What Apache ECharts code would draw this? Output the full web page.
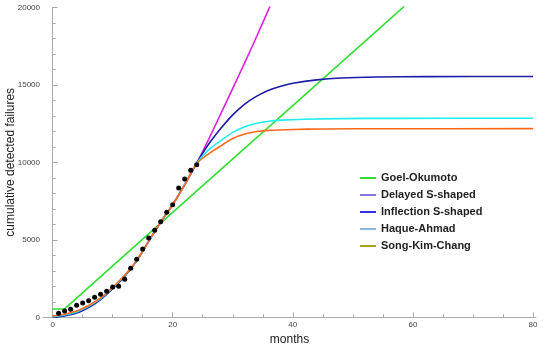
<!DOCTYPE html>
<html><head><meta charset="utf-8">
<script src="https://cdn.jsdelivr.net/npm/echarts@6/dist/echarts.min.js"></script>
<style>html,body{margin:0;padding:0;background:#fff}#c{width:550px;height:347px}</style>
</head><body><div id="c"></div>
<script>
// observed data
const obsMonths = [1,2,3,4,5,6,7,8,9,10,11,12,13,14,15,16,17,18,19,20,21,22,23,24];
const obsFailures = [260,406,516,774,923,1071,1290,1484,1677,1955,2000,2452,3161,3742,4406,5116,5613,6168,6774,7265,8340,8930,9480,9835];

// model curves (sampled)
const goMonths = [0,2,10,20,30,40,50,60];
const goValues = [540,540,3320,6770,10220,13660,17110,20560];

const dsMonths = [0,2,4,6,8,10,12,14,16,18,20,22,24,26,28,30,32,34,36,38];
const dsValues = [0,130,330,690,1200,1880,2680,3650,4900,6130,7270,8560,9930,11500,13120,14770,16430,18130,19890,21700];

const isMonths = [0,2,4,6,8,10,12,14,16,18,20,22,24,26,28,30,32,34,36,38,40,44,48,54,62,80];
const isValues = [0,90,270,630,1140,1840,2640,3640,4900,6150,7260,8560,9960,11180,12180,13060,13760,14270,14650,14910,15100,15320,15440,15505,15530,15540];

const haMonths = [0,2,4,6,8,10,12,14,16,18,20,22,24,26,28,30,32,34,36,38,42,48,58,80];
const haValues = [40,150,350,710,1210,1890,2690,3660,4910,6140,7260,8560,9940,10820,11400,11930,12300,12520,12650,12720,12780,12820,12835,12840];

const skMonths = [0,2,4,6,8,10,12,14,16,18,20,22,24,26,28,30,32,34,36,40,45,55,80];
const skValues = [90,200,400,760,1250,1920,2710,3670,4910,6140,7260,8550,9920,10550,11060,11540,11830,11985,12060,12120,12150,12165,12170];

const seriesNames = ['Goel-Okumoto','Delayed S-shaped','Inflection S-shaped','Haque-Ahmad','Song-Kim-Chang'];
const lineColors = ['#33dd33','#dd22dd','#1c1ca8','#22eeee','#ff6a1c'];
const legendColors = ['#33dd33','#9070e0','#3030e0','#88bbe0','#b0a020'];
const xMajor = [0,20,40,60,80];
const xMinor = [5,10,15,25,30,35,45,50,55,65,70,75];

function zip(a,b){return a.map((x,i)=>[x,b[i]]);}
const curveData = [zip(goMonths,goValues),zip(dsMonths,dsValues),zip(isMonths,isValues),zip(haMonths,haValues),zip(skMonths,skValues)];

const chart = echarts.init(document.getElementById('c'));
const axisGray = '#aaaaaa';
const series = seriesNames.map((n,i)=>({
  name:n, type:'line', data:curveData[i], showSymbol:false, symbol:'none',
  smooth: i===0 ? false : 0.3,
  lineStyle:{color:lineColors[i], width:1.6}, itemStyle:{color:lineColors[i]},
  clip:true, z:2
}));
series.push({
  name:'observed', type:'scatter', data:zip(obsMonths,obsFailures),
  symbolSize:5, itemStyle:{color:'#000', opacity:1}, z:5
});

chart.setOption({
  animation:false,
  grid:{left:43, right:14, top:7.3, bottom:29.7, outerBoundsMode:'none', containLabel:false},
  legend:{
    orient:'vertical', left:355, top:166, icon:'rect', itemWidth:16, itemHeight:2, itemGap:3,
    textStyle:{fontFamily:'Liberation Sans', fontWeight:'bold', fontSize:11, color:'#222', lineHeight:14},
    data: seriesNames.map((n,i)=>({name:n, itemStyle:{color:legendColors[i]}}))
  },
  xAxis:[{
    type:'value', min:-1.6, max:80.5,
    name:'months', nameLocation:'middle', nameGap:16, nameMoveOverlap:false,
    nameTextStyle:{fontFamily:'Liberation Sans', fontSize:12, color:'#222'},
    axisLine:{lineStyle:{color:axisGray}},
    axisTick:{inside:true, length:5, customValues:xMajor, lineStyle:{color:axisGray}},
    axisLabel:{customValues:xMajor, fontFamily:'Liberation Sans', fontSize:8, color:'#444', margin:3, formatter:v=>String(v)},
    splitLine:{show:false}
  },{
    type:'value', min:-1.6, max:80.5, position:'bottom',
    axisLine:{show:false},
    axisTick:{inside:true, length:3, customValues:xMinor, lineStyle:{color:axisGray}},
    axisLabel:{show:false}, splitLine:{show:false}
  }],
  yAxis:{
    type:'value', min:0, max:20000, interval:5000,
    name:'cumulative detected failures', nameLocation:'middle', nameGap:26, nameRotate:90, nameMoveOverlap:false,
    nameTextStyle:{fontFamily:'Liberation Sans', fontSize:12, color:'#222'},
    axisLine:{show:true, lineStyle:{color:axisGray}},
    axisTick:{show:true, inside:true, length:5, lineStyle:{color:axisGray}},
    minorTick:{show:true, splitNumber:5, length:3, lineStyle:{color:axisGray}},
    axisLabel:{fontFamily:'Liberation Sans', fontSize:8, color:'#444', margin:3, formatter:v=>String(v)},
    splitLine:{show:false}
  },
  series: series
});
</script></body></html>
